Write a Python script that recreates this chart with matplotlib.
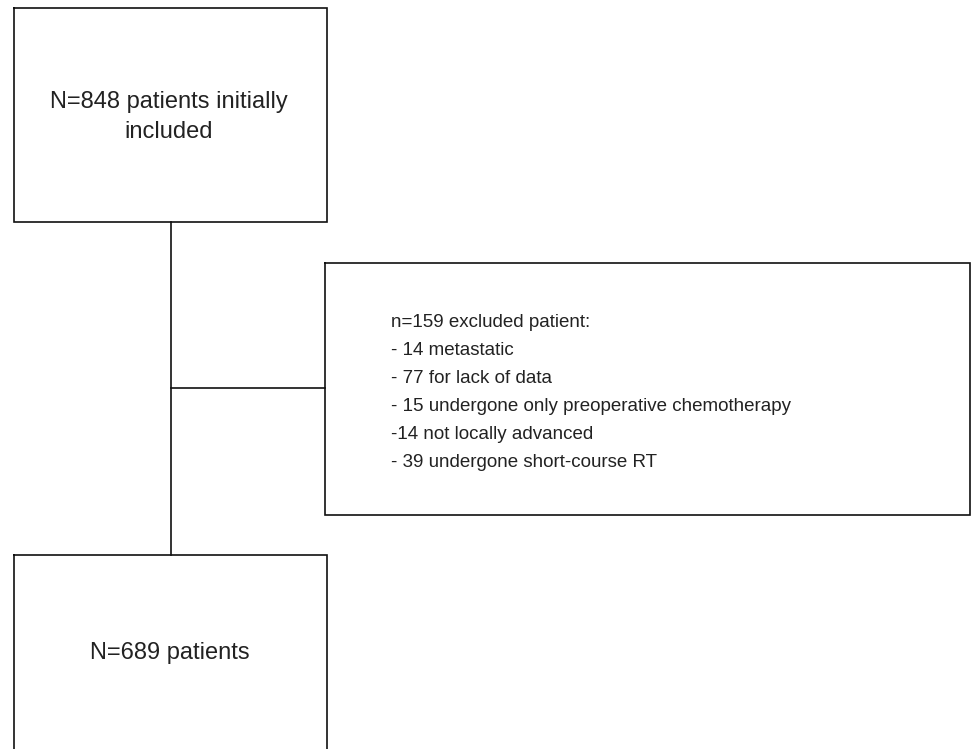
import matplotlib.pyplot as plt

top_text = "N=848 patients initially\nincluded"
bottom_text = "N=689 patients"
excl_header = "n=159 excluded patient:"
excl_items = ["- 14 metastatic",
              "- 77 for lack of data",
              "- 15 undergone only preoperative chemotherapy",
              "-14 not locally advanced",
              "- 39 undergone short-course RT"]

plt.rcParams['font.family'] = ['Liberation Sans', 'DejaVu Sans']

fig = plt.figure(figsize=(9.72, 7.49), dpi=100)
ax = fig.add_axes([0, 0, 1, 1])
ax.set_xlim(0, 972)
ax.set_ylim(749, 0)
ax.axis("off")

lw = 1.2
col = "#111111"

def box(x0, y0, x1, y1):
    ax.plot([x0, x1, x1, x0, x0], [y0, y0, y1, y1, y0], color=col, lw=lw, solid_joinstyle="miter")

box(14, 8, 327, 222)
box(325, 263, 970, 515)
box(14, 555, 327, 760)

# connectors
ax.plot([171, 171], [222, 555], color=col, lw=lw)
ax.plot([171, 325], [388, 388], color=col, lw=lw)

txt = "#222222"
ax.text(169, 117, top_text, ha="center", va="center", fontsize=17, color=txt, linespacing=1.5)
ax.text(170, 653, bottom_text, ha="center", va="center", fontsize=17, color=txt)

lines = [excl_header] + excl_items
ax.text(391, 314, "\n".join(lines), ha="left", va="top", fontsize=13.5, color=txt,
        linespacing=1.84)

fig.savefig("out.png", dpi=100)
